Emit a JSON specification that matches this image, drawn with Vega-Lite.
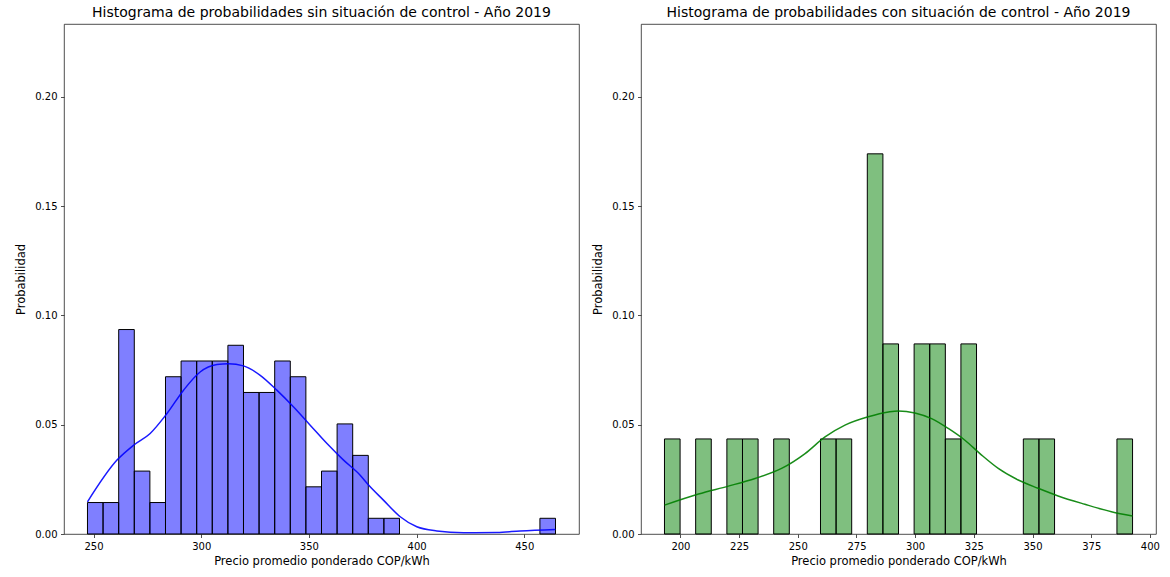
{
  "$schema": "https://vega.github.io/schema/vega-lite/v6.json",
  "padding": {"left": 15, "top": 5, "right": 4, "bottom": 4},
  "spacing": 12,
  "config": {
    "font": "DejaVu Sans",
    "view": {"stroke": "#222", "strokeWidth": 0.8},
    "axis": {
      "grid": false,
      "domain": false,
      "tickColor": "#222",
      "tickSize": 3.5,
      "tickWidth": 0.8,
      "labelFontSize": 10,
      "labelColor": "#000",
      "labelPadding": 3.5,
      "titleFontSize": 11.5,
      "titleFontWeight": "normal",
      "titleColor": "#000"
    },
    "title": {"fontSize": 14, "fontWeight": "normal", "color": "#000", "offset": 4}
  },
  "datasets": {
    "sin_control": [
      {"desde": 247.20, "hasta": 254.44, "prob": 0.01439},
      {"desde": 254.44, "hasta": 261.69, "prob": 0.01439},
      {"desde": 261.69, "hasta": 268.93, "prob": 0.09353},
      {"desde": 268.93, "hasta": 276.17, "prob": 0.02878},
      {"desde": 276.17, "hasta": 283.42, "prob": 0.01439},
      {"desde": 283.42, "hasta": 290.66, "prob": 0.07194},
      {"desde": 290.66, "hasta": 297.90, "prob": 0.07914},
      {"desde": 297.90, "hasta": 305.14, "prob": 0.07914},
      {"desde": 305.14, "hasta": 312.39, "prob": 0.07914},
      {"desde": 312.39, "hasta": 319.63, "prob": 0.08633},
      {"desde": 319.63, "hasta": 326.87, "prob": 0.06475},
      {"desde": 326.87, "hasta": 334.12, "prob": 0.06475},
      {"desde": 334.12, "hasta": 341.36, "prob": 0.07914},
      {"desde": 341.36, "hasta": 348.60, "prob": 0.07194},
      {"desde": 348.60, "hasta": 355.85, "prob": 0.02158},
      {"desde": 355.85, "hasta": 363.09, "prob": 0.02878},
      {"desde": 363.09, "hasta": 370.33, "prob": 0.05036},
      {"desde": 370.33, "hasta": 377.57, "prob": 0.03597},
      {"desde": 377.57, "hasta": 384.82, "prob": 0.00719},
      {"desde": 384.82, "hasta": 392.06, "prob": 0.00719},
      {"desde": 457.25, "hasta": 464.49, "prob": 0.00719}
    ],
    "kde_sin_control": [
      {"precio": 247.2, "densidad": 0.0147},
      {"precio": 260.9, "densidad": 0.0338},
      {"precio": 268.6, "densidad": 0.0406},
      {"precio": 276.3, "densidad": 0.0460},
      {"precio": 284.1, "densidad": 0.0551},
      {"precio": 291.8, "densidad": 0.0658},
      {"precio": 299.5, "densidad": 0.0741},
      {"precio": 307.3, "densidad": 0.0775},
      {"precio": 312.7, "densidad": 0.0779},
      {"precio": 319.6, "densidad": 0.0769},
      {"precio": 327.4, "densidad": 0.0726},
      {"precio": 335.1, "densidad": 0.0658},
      {"precio": 342.9, "densidad": 0.0581},
      {"precio": 350.6, "densidad": 0.0498},
      {"precio": 358.4, "densidad": 0.0414},
      {"precio": 366.1, "densidad": 0.0338},
      {"precio": 373.8, "densidad": 0.0269},
      {"precio": 377.7, "densidad": 0.0224},
      {"precio": 384.6, "densidad": 0.0155},
      {"precio": 392.4, "densidad": 0.0079},
      {"precio": 400.1, "densidad": 0.0033},
      {"precio": 409.4, "densidad": 0.0014},
      {"precio": 421.8, "densidad": 0.0006},
      {"precio": 437.3, "densidad": 0.0007},
      {"precio": 448.1, "densidad": 0.0014},
      {"precio": 464.5, "densidad": 0.0021}
    ],
    "con_control": [
      {"desde": 193.20, "hasta": 199.85, "prob": 0.04348},
      {"desde": 206.49, "hasta": 213.14, "prob": 0.04348},
      {"desde": 219.79, "hasta": 226.44, "prob": 0.04348},
      {"desde": 226.44, "hasta": 233.08, "prob": 0.04348},
      {"desde": 239.73, "hasta": 246.38, "prob": 0.04348},
      {"desde": 259.67, "hasta": 266.32, "prob": 0.04348},
      {"desde": 266.32, "hasta": 272.96, "prob": 0.04348},
      {"desde": 279.61, "hasta": 286.26, "prob": 0.17391},
      {"desde": 286.26, "hasta": 292.91, "prob": 0.08696},
      {"desde": 299.55, "hasta": 306.20, "prob": 0.08696},
      {"desde": 306.20, "hasta": 312.85, "prob": 0.08696},
      {"desde": 312.85, "hasta": 319.49, "prob": 0.04348},
      {"desde": 319.49, "hasta": 326.14, "prob": 0.08696},
      {"desde": 346.08, "hasta": 352.73, "prob": 0.04348},
      {"desde": 352.73, "hasta": 359.38, "prob": 0.04348},
      {"desde": 385.96, "hasta": 392.61, "prob": 0.04348}
    ],
    "kde_con_control": [
      {"precio": 193.2, "densidad": 0.0132},
      {"precio": 207.7, "densidad": 0.0183},
      {"precio": 220.4, "densidad": 0.0219},
      {"precio": 231.8, "densidad": 0.0254},
      {"precio": 243.1, "densidad": 0.0300},
      {"precio": 253.1, "densidad": 0.0368},
      {"precio": 261.6, "densidad": 0.0444},
      {"precio": 270.1, "densidad": 0.0498},
      {"precio": 280.0, "densidad": 0.0536},
      {"precio": 288.6, "densidad": 0.0558},
      {"precio": 292.8, "densidad": 0.0563},
      {"precio": 299.9, "densidad": 0.0554},
      {"precio": 307.0, "densidad": 0.0528},
      {"precio": 314.1, "densidad": 0.0483},
      {"precio": 321.2, "densidad": 0.0429},
      {"precio": 328.3, "densidad": 0.0361},
      {"precio": 335.4, "densidad": 0.0300},
      {"precio": 343.9, "densidad": 0.0247},
      {"precio": 352.4, "densidad": 0.0209},
      {"precio": 360.9, "densidad": 0.0174},
      {"precio": 372.3, "densidad": 0.0136},
      {"precio": 383.6, "densidad": 0.0102},
      {"precio": 392.6, "densidad": 0.0082}
    ]
  },
  "hconcat": [
    {
      "width": 515,
      "height": 510,
      "title": "Histograma de probabilidades sin situación de control - Año 2019",
      "layer": [
        {
          "data": {"name": "sin_control"},
          "mark": {"type": "rect", "fill": "#0000ff", "fillOpacity": 0.5, "stroke": "#000", "strokeWidth": 1},
          "encoding": {
            "x": {"field": "desde", "type": "quantitative",
              "scale": {"domain": [236.3, 475.4], "nice": false, "zero": false},
              "axis": {"values": [250, 300, 350, 400, 450], "format": "d", "title": "Precio promedio ponderado COP/kWh", "titlePadding": 4}},
            "x2": {"field": "hasta"},
            "y": {"field": "prob", "type": "quantitative",
              "scale": {"domain": [0, 0.2333], "nice": false},
              "axis": {"values": [0, 0.05, 0.1, 0.15, 0.2], "format": ".2f", "title": "Probabilidad", "titlePadding": 8}},
            "y2": {"datum": 0}
          }
        },
        {
          "data": {"name": "kde_sin_control"},
          "mark": {"type": "line", "color": "#0000ff", "strokeWidth": 1.5, "interpolate": "monotone", "opacity": 0.9},
          "encoding": {
            "x": {"field": "precio", "type": "quantitative"},
            "y": {"field": "densidad", "type": "quantitative"}
          }
        }
      ]
    },
    {
      "width": 515,
      "height": 510,
      "title": "Histograma de probabilidades con situación de control - Año 2019",
      "layer": [
        {
          "data": {"name": "con_control"},
          "mark": {"type": "rect", "fill": "#008000", "fillOpacity": 0.5, "stroke": "#000", "strokeWidth": 1},
          "encoding": {
            "x": {"field": "desde", "type": "quantitative",
              "scale": {"domain": [183.2, 402.6], "nice": false, "zero": false},
              "axis": {"values": [200, 225, 250, 275, 300, 325, 350, 375, 400], "format": "d", "title": "Precio promedio ponderado COP/kWh", "titlePadding": 4}},
            "x2": {"field": "hasta"},
            "y": {"field": "prob", "type": "quantitative",
              "scale": {"domain": [0, 0.2333], "nice": false},
              "axis": {"values": [0, 0.05, 0.1, 0.15, 0.2], "format": ".2f", "title": "Probabilidad", "titlePadding": 8}},
            "y2": {"datum": 0}
          }
        },
        {
          "data": {"name": "kde_con_control"},
          "mark": {"type": "line", "color": "#008000", "strokeWidth": 1.5, "interpolate": "monotone", "opacity": 0.9},
          "encoding": {
            "x": {"field": "precio", "type": "quantitative"},
            "y": {"field": "densidad", "type": "quantitative"}
          }
        }
      ]
    }
  ]
}
